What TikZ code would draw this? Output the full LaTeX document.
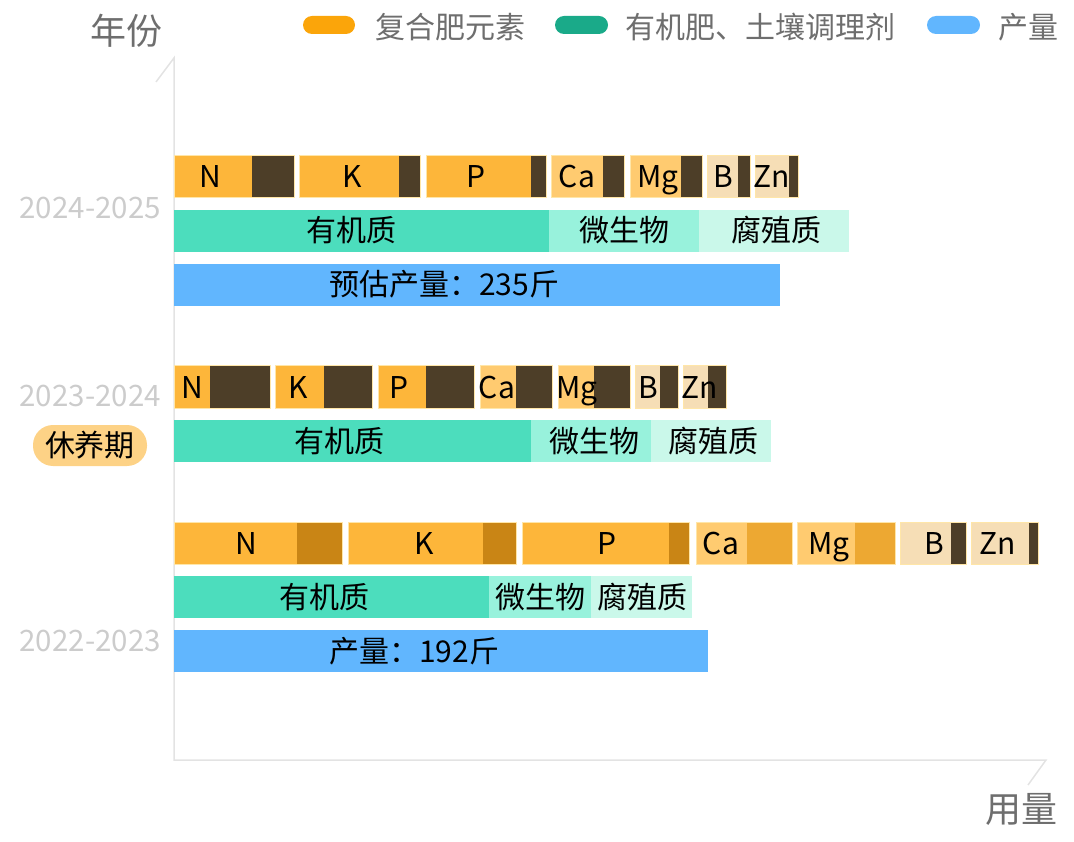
\documentclass[tikz,border=0pt]{standalone}
\usepackage{fontspec}
\setmainfont{Noto Sans CJK SC}
\usepackage{xcolor}
\usepackage{tikz}
\definecolor{nkp}{HTML}{FDB63A}
\definecolor{cam}{HTML}{FFCB70}
\definecolor{bzn}{HTML}{F6DEB6}
\definecolor{dk}{HTML}{4D3E28}
\definecolor{dkA}{HTML}{C98515}
\definecolor{dkB}{HTML}{EDA832}
\definecolor{edgecol}{HTML}{FFE6A8}
\definecolor{orgA}{HTML}{4CDDBD}
\definecolor{orgB}{HTML}{98F2DC}
\definecolor{orgC}{HTML}{CAF8EA}
\definecolor{yld}{HTML}{61B6FE}
\definecolor{lgorange}{HTML}{FBA50A}
\definecolor{lggreen}{HTML}{1AAA89}
\definecolor{axisgray}{HTML}{E3E3E3}
\definecolor{namegray}{HTML}{6E6E6E}
\definecolor{yeargray}{HTML}{CCCCCC}
\definecolor{restcol}{HTML}{FDD286}

\begin{document}
\begin{tikzpicture}[x=1pt,y=-1pt,
							every node/.style={inner sep=0pt,text height=22pt,text depth=0pt,
								font=\fontsize{30}{34}\selectfont},
							axisline/.style={draw=axisgray,line width=1.5pt},
							edge/.style={draw=edgecol,line width=1pt},
							yearlab/.style={anchor=east,text=yeargray,text height=21.8pt,font=\fontsize{29.5}{34}\selectfont},
							legendlab/.style={anchor=west,text=namegray,text height=22.2pt,font=\fontsize{30}{34}\selectfont},
							axisname/.style={text=namegray,text height=26.5pt,font=\fontsize{36}{40}\selectfont}]
			\useasboundingbox (0,0) rectangle (1074,842);
			% axes
			\draw[axisline] (156,82) -- (174,58) -- (174,760) -- (1046,760) -- (1028,785);
			\node[axisname] (yname) at (126,31) {年份};
			\node[axisname] (xname) at (1021,809) {用量};
			% legend
			\fill[lgorange,rounded corners=9pt] (303,16) rectangle (355,34);
			\node[legendlab] (lg1) at (375,27) {复合肥元素};
			\fill[lggreen,rounded corners=9pt] (555,16) rectangle (608,34);
			\node[legendlab] (lg2) at (625,27) {有机肥、土壤调理剂};
			\fill[yld,rounded corners=9pt] (927,16) rectangle (980,34);
			\node[legendlab] (lg3) at (998,27) {产量};
			% year labels
			\node[yearlab] (y1) at (161,208) {2024-2025};
			\node[yearlab] (y2) at (161,396) {2023-2024};
			\node[yearlab] (y3) at (161,641) {2022-2023};
			\node[fill=restcol,rounded corners=20pt,minimum width=114pt,minimum height=41pt] (rest) at (90,445.5) {休养期};
			% 2024-2025
			\foreach \a/\d/\b/\c/\k/\t/\m in {174/252/294/nkp/dk/N/210,299/399/420/nkp/dk/K/352,
					426/531/546/nkp/dk/P/476,551/603/624/cam/dk/Ca/577,630/681/702/cam/dk/Mg/658,
					707/738/750/bzn/dk/B/723,755/789/798/bzn/dk/Zn/772}
			{
				\fill[fill=\c] (\a,156) rectangle (\d,198);
				\fill[fill=\k] (\d,156) rectangle (\b,198);
				\draw[edge] (\a,156) rectangle (\b,198);
				\node (a-\t) at (\m,177) {\t};
			}
			\fill[orgA] (174,210) rectangle (549,252);
			\fill[orgB] (549,210) rectangle (699,252);
			\fill[orgC] (699,210) rectangle (849,252);
			\node (a-om) at (351,231) {有机质};
			\node (a-mi) at (624,231) {微生物};
			\node (a-hu) at (776,231) {腐殖质};
			\fill[yld] (174,264) rectangle (780,306);
			\node[anchor=west] (a-yl) at (329,285) {预估产量：235斤};
			% 2023-2024
			\foreach \a/\d/\b/\c/\k/\t/\m in {174/210/270/nkp/dk/N/192,275/324/372/nkp/dk/K/298,
					378/426/474/nkp/dk/P/399,480/516/552/cam/dk/Ca/497,558/594/630/cam/dk/Mg/577,
					635/660/678/bzn/dk/B/648,683/708/726/bzn/dk/Zn/700}
			{
				\fill[fill=\c] (\a,366) rectangle (\d,408);
				\fill[fill=\k] (\d,366) rectangle (\b,408);
				\draw[edge] (\a,366) rectangle (\b,408);
				\node (b-\t) at (\m,387) {\t};
			}
			\fill[orgA] (174,420) rectangle (531,462);
			\fill[orgB] (531,420) rectangle (651,462);
			\fill[orgC] (651,420) rectangle (771,462);
			\node (b-om) at (339,441) {有机质};
			\node (b-mi) at (594,441) {微生物};
			\node (b-hu) at (713,441) {腐殖质};
			% 2022-2023
			\foreach \a/\d/\b/\c/\k/\t/\m in {174/297/342/nkp/dkA/N/246,348/483/516/nkp/dkA/K/424,
					522/669/689/nkp/dkA/P/607,696/747/792/cam/dkB/Ca/721,797/855/895/cam/dkB/Mg/829,
					900/951/966/bzn/dk/B/934,971/1029/1038/bzn/dk/Zn/998}
			{
				\fill[fill=\c] (\a,522) rectangle (\d,564);
				\fill[fill=\k] (\d,522) rectangle (\b,564);
				\draw[edge] (\a,522) rectangle (\b,564);
				\node (c-\t) at (\m,543) {\t};
			}
			\fill[orgA] (174,576) rectangle (489,618);
			\fill[orgB] (489,576) rectangle (591,618);
			\fill[orgC] (591,576) rectangle (692,618);
			\node (c-om) at (324,597) {有机质};
			\node (c-mi) at (540,597) {微生物};
			\node (c-hu) at (642,597) {腐殖质};
			\fill[yld] (174,630) rectangle (708,672);
			\node[anchor=west] (c-yl) at (329,651) {产量：192斤};
		\end{tikzpicture}
\end{document}
